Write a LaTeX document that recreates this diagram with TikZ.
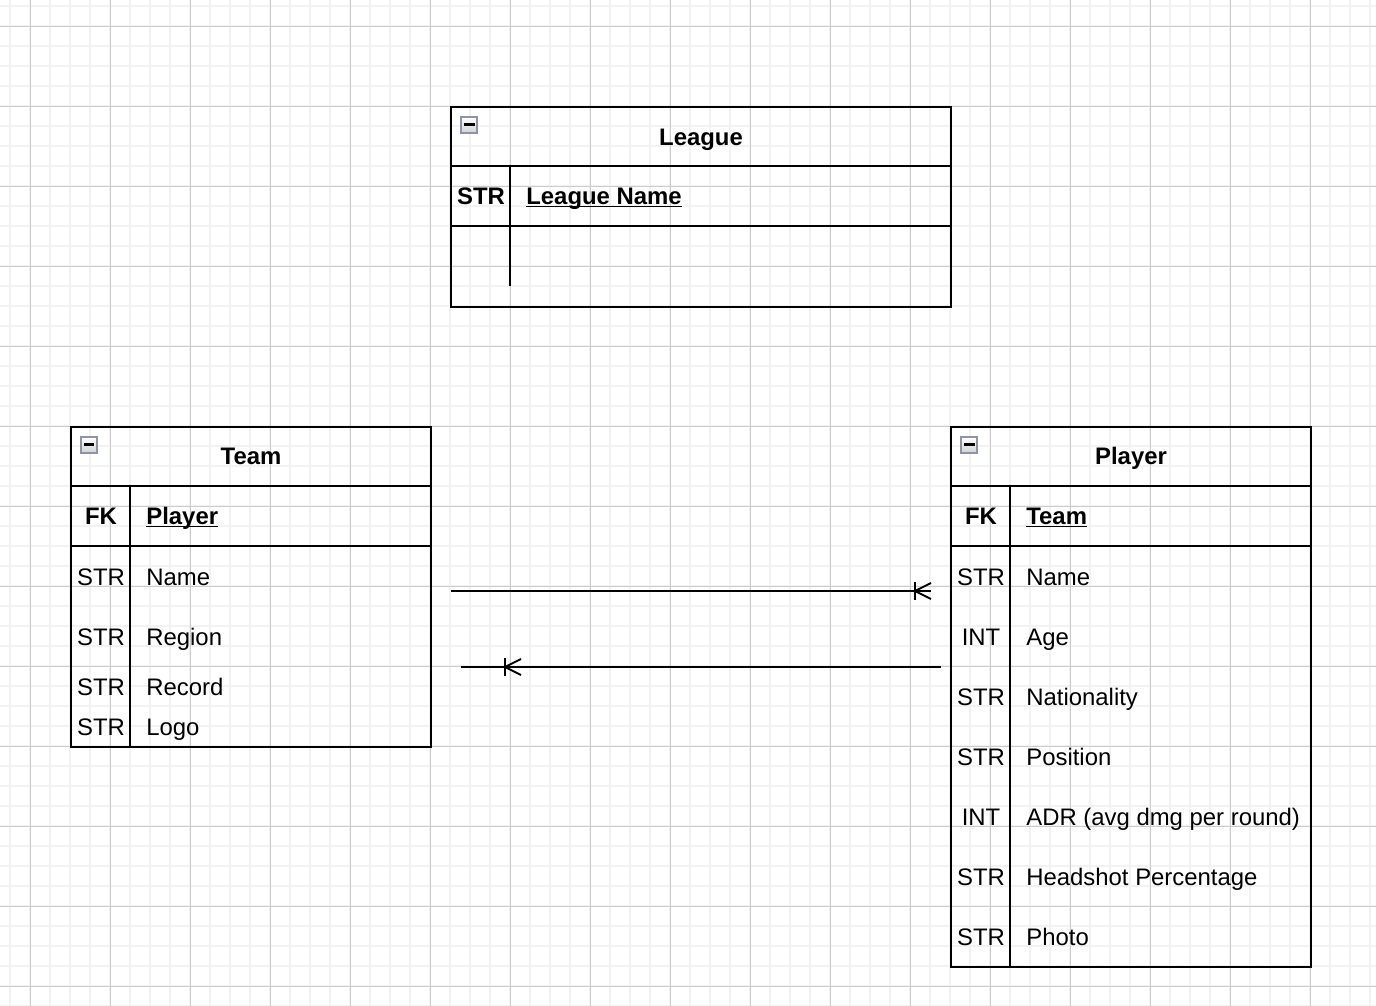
\documentclass[tikz,border=0pt]{standalone}
\usepackage{fontspec}
\setmainfont{Liberation Sans}
\usetikzlibrary{positioning}

\definecolor{gridlight}{HTML}{F2F2F2}
\definecolor{griddark}{HTML}{CCCCCC}
\definecolor{toggleedge}{HTML}{8E93A6}

\newcommand\erfont{\fontsize{13.6}{16}\selectfont}
% underline sitting just below the baseline
\newcommand\keyname[1]{\setbox0\hbox{#1}\rlap{\rule[-1.3pt]{\wd0}{0.8pt}}\box0}

\tikzset{
  gridminor/.style={draw=gridlight,line width=1.1pt},
  gridmajor/.style={draw=griddark,line width=0.5pt},
  tablebox/.style={draw,line width=1.1pt,inner sep=0pt},
  rowline/.style={line width=1.1pt},
  tabletitle/.style={anchor=base,inner sep=0pt,font=\erfont\bfseries},
  keytype/.style={anchor=base,inner sep=0pt,font=\erfont\bfseries},
  keyfield/.style={anchor=base west,inner sep=0pt,font=\erfont\bfseries},
  fieldtype/.style={anchor=base,inner sep=0pt,font=\erfont},
  fieldname/.style={anchor=base west,inner sep=0pt,font=\erfont},
  togglebox/.style={draw=toggleedge,line width=1.2pt,top color=white,
    bottom color=black!18,minimum size=0.32cm,inner sep=0pt},
  relation/.style={line width=1.1pt}
}

\begin{document}
\begin{tikzpicture}[x=0.02cm,y=-0.02cm]
    \useasboundingbox (0,0) rectangle (1376,1006);
    \fill[white] (0,0) rectangle (1376,1006);
    % background grid
    \foreach \gx in {10,30,...,1370} \draw[gridminor] (\gx,0) -- (\gx,1006);
    \foreach \gy in {6,26,...,1006} \draw[gridminor] (0,\gy) -- (1376,\gy);
    \foreach \gx in {30,110,...,1370} \draw[gridmajor] (\gx,0) -- (\gx,1006);
    \foreach \gy in {26,106,...,1006} \draw[gridmajor] (0,\gy) -- (1376,\gy);
    %
    % League
    \node[tablebox,minimum width=10cm,minimum height=4cm] (league) at (701,207) {};
    \draw[rowline] (league.north west) ++(0,60) -- ++(500,0);
    \draw[rowline] (league.north west) ++(0,120) -- ++(500,0);
    \draw[rowline] (league.north west) ++(60,60) -- ++(0,120);
    \node[togglebox] (league-toggle) at (469,125) {\rule{0.22cm}{0.06cm}};
    \node[tabletitle] (league-title) at (701,146) {League};
    \node[keytype] (league-key) at (481,205) {STR};
    \node[keyfield] (league-keyname) at (526,205) {\keyname{League Name}};
    %
    % Team
    \node[tablebox,minimum width=7.2cm,minimum height=6.4cm] (team) at (251,587) {};
    \draw[rowline] (team.north west) ++(0,60) -- ++(360,0);
    \draw[rowline] (team.north west) ++(0,120) -- ++(360,0);
    \draw[rowline] (team.north west) ++(60,60) -- ++(0,260);
    \node[togglebox] (team-toggle) at (89,445) {\rule{0.22cm}{0.06cm}};
    \node[tabletitle] (team-title) at (251,465) {Team};
    \node[keytype] (team-key) at (101,525) {FK};
    \node[keyfield] (team-keyname) at (146,525) {\keyname{Player}};
    \foreach \fy/\ftype/\fname [count=\i] in
      {585/STR/Name, 645/STR/Region, 695/STR/Record, 735/STR/Logo}
    {
      \node[fieldtype] (team-type-\i) at (101,\fy) {\ftype};
      \node[fieldname] (team-field-\i) at (146,\fy) {\fname};
    }
    %
    % Player
    \node[tablebox,minimum width=7.2cm,minimum height=10.8cm] (player) at (1131,697) {};
    \draw[rowline] (player.north west) ++(0,60) -- ++(360,0);
    \draw[rowline] (player.north west) ++(0,120) -- ++(360,0);
    \draw[rowline] (player.north west) ++(60,60) -- ++(0,480);
    \node[togglebox] (player-toggle) at (969,445) {\rule{0.22cm}{0.06cm}};
    \node[tabletitle] (player-title) at (1131,465) {Player};
    \node[keytype] (player-key) at (981,525) {FK};
    \node[keyfield] (player-keyname) at (1026,525) {\keyname{Team}};
    \foreach \ftype/\fname [count=\i] in
      {STR/Name, INT/Age, STR/Nationality, STR/Position,
       INT/{ADR (avg dmg per round)}, STR/Headshot Percentage, STR/Photo}
    {
      \node[fieldtype] (player-type-\i) at (981,525+60*\i) {\ftype};
      \node[fieldname] (player-field-\i) at (1026,525+60*\i) {\fname};
    }
    %
    % relations
    \coordinate (team-out) at (451,591);
    \coordinate (player-in) at (931,591);
    \draw[relation] (team-out) -- (player-in);
    \draw[relation] (player-in) ++(-16,-9) -- ++(0,18);
    \draw[relation] (player-in) ++(0,-8) -- ++(-16,8) -- ++(16,8);
    \coordinate (player-out) at (941,667);
    \coordinate (team-in) at (461,667);
    \draw[relation] (player-out) -- (team-in);
    \draw[relation] (team-in) ++(44,-9) -- ++(0,18);
    \draw[relation] (team-in) ++(60,-8) -- ++(-16,8) -- ++(16,8);
\end{tikzpicture}
\end{document}
